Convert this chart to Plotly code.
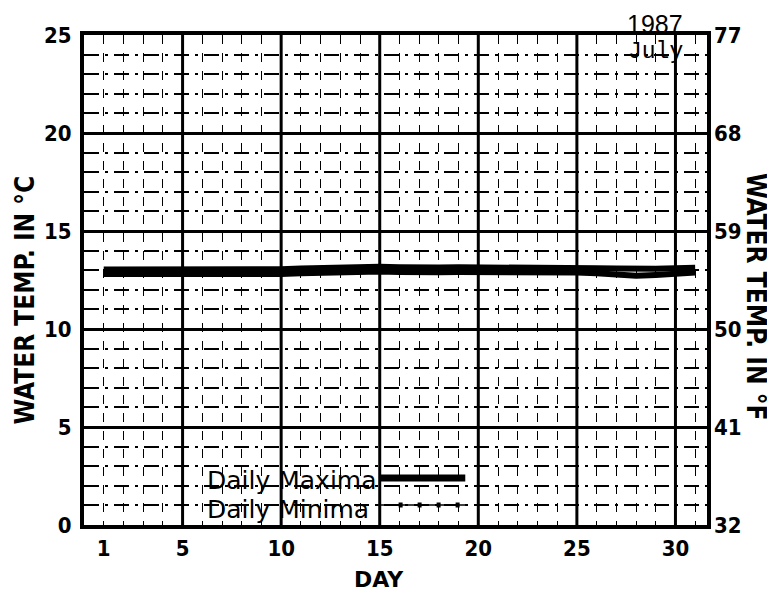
import plotly.graph_objects as go

days = list(range(1, 32))
daily_max_c = [13.04, 13.04, 13.02, 13.00, 13.00, 12.99, 12.99, 13.00, 13.02, 13.05, 13.09,
               13.12, 13.15, 13.17, 13.17, 13.15, 13.12, 13.14, 13.15, 13.15, 13.17, 13.14,
               13.10, 13.12, 13.12, 13.10, 13.09, 13.06, 13.08, 13.10, 13.12]
daily_min_c = [12.80, 12.80, 12.78, 12.76, 12.76, 12.75, 12.75, 12.76, 12.78, 12.81, 12.85,
               12.88, 12.91, 12.93, 12.93, 12.91, 12.88, 12.90, 12.91, 12.91, 12.93, 12.90,
               12.86, 12.88, 12.88, 12.84, 12.76, 12.72, 12.76, 12.85, 12.88]
x_tick_vals = [1, 5, 10, 15, 20, 25, 30]
y_tick_vals_c = [0, 5, 10, 15, 20, 25]
y_tick_vals_f = [32, 41, 50, 59, 68, 77]

NARROW = "DejaVu Sans Condensed, Liberation Sans Narrow, Roboto, DejaVu Sans"
TICK_FONT = dict(family=NARROW, size=22, color="black", weight="bold")
TITLE_FONT = dict(family=NARROW, size=26, color="black", weight="bold")
LEGEND_FONT = dict(family="DejaVu Sans", size=25, color="black")

fig = go.Figure()
fig.add_trace(go.Scatter(x=days, y=daily_max_c, mode="lines", name="Daily Maxima",
                         line=dict(color="black", width=6), showlegend=False))
fig.add_trace(go.Scatter(x=days, y=daily_min_c, mode="lines", name="Daily Minima",
                         line=dict(color="black", width=6), showlegend=False))
# invisible Fahrenheit trace to carry the right axis
fig.add_trace(go.Scatter(x=days, y=[c * 9 / 5 + 32 for c in daily_max_c], yaxis="y2",
                         mode="lines", line=dict(color="rgba(0,0,0,0)", width=0),
                         showlegend=False, hoverinfo="skip"))

# major vertical grid lines every 5 days
shapes = []
for d in range(5, 31, 5):
    shapes.append(dict(type="line", xref="x", yref="paper", x0=d, x1=d, y0=0, y1=1,
                       line=dict(color="black", width=3), layer="below"))

# legend samples
shapes.append(dict(type="line", xref="paper", yref="paper", x0=0.475, x1=0.612,
                   y0=0.096, y1=0.096, line=dict(color="black", width=7)))
shapes.append(dict(type="line", xref="paper", yref="paper", x0=0.470, x1=0.615,
                   y0=0.041, y1=0.041, line=dict(color="black", width=1.5)))
shapes.append(dict(type="line", xref="paper", yref="paper", x0=0.505, x1=0.615,
                   y0=0.041, y1=0.041, line=dict(color="black", width=5, dash="4px,15px")))

annotations = [
    dict(text="Daily Maxima", xref="paper", yref="paper", x=0.194, y=0.090,
         xanchor="left", yanchor="middle", showarrow=False, font=LEGEND_FONT),
    dict(text="Daily Minima", xref="paper", yref="paper", x=0.194, y=0.031,
         xanchor="left", yanchor="middle", showarrow=False, font=LEGEND_FONT),
    dict(text="1987", xref="paper", yref="paper", x=0.9165, y=1.022,
         xanchor="center", yanchor="middle", showarrow=False,
         font=dict(family="Liberation Sans", size=25, color="black")),
    dict(text="July", xref="paper", yref="paper", x=0.918, y=0.965,
         xanchor="center", yanchor="middle", showarrow=False,
         font=dict(family="Liberation Mono", size=23, color="black")),
    dict(text="WATER TEMP. IN °C", xref="paper", yref="paper", x=-0.094, y=0.459,
         xanchor="center", yanchor="middle", textangle=-90, showarrow=False,
         font=TITLE_FONT),
    dict(text="WATER TEMP. IN °F", xref="paper", yref="paper", x=1.079, y=0.465,
         xanchor="center", yanchor="middle", textangle=90, showarrow=False,
         font=TITLE_FONT),
    dict(text="DAY", xref="paper", yref="paper", x=0.4735, y=-0.112,
         xanchor="center", yanchor="middle", showarrow=False,
         font=dict(family="DejaVu Sans", size=22, color="black", weight="bold")),
]

fig.update_layout(
    width=767, height=586,
    margin=dict(l=76, r=68, t=27, b=69),
    paper_bgcolor="white", plot_bgcolor="white",
    shapes=shapes, annotations=annotations,
    xaxis=dict(range=[0, 31.6], tickvals=x_tick_vals, showgrid=False, zeroline=False,
               showline=True, linecolor="black", linewidth=4, mirror=True,
               ticks="", tickfont=TICK_FONT, ticklabelstandoff=1,
               minor=dict(dtick=1, tick0=0, showgrid=True, gridcolor="black",
                          gridwidth=1.3, griddash="dash")),
    yaxis=dict(range=[0, 25], tickvals=y_tick_vals_c, showgrid=True, gridcolor="black",
               gridwidth=3, zeroline=False, showline=True, linecolor="black",
               linewidth=4, mirror=True, ticks="", tickfont=TICK_FONT,
               ticklabelstandoff=4,
               minor=dict(dtick=1, tick0=0, showgrid=True, gridcolor="black",
                          gridwidth=2, griddash="longdashdot")),
    yaxis2=dict(range=[32, 77], tickvals=y_tick_vals_f, overlaying="y", side="right",
                showgrid=False, zeroline=False, ticks="", tickfont=TICK_FONT,
                ticklabelstandoff=6, showline=False),
)

fig.write_html("out.html")
